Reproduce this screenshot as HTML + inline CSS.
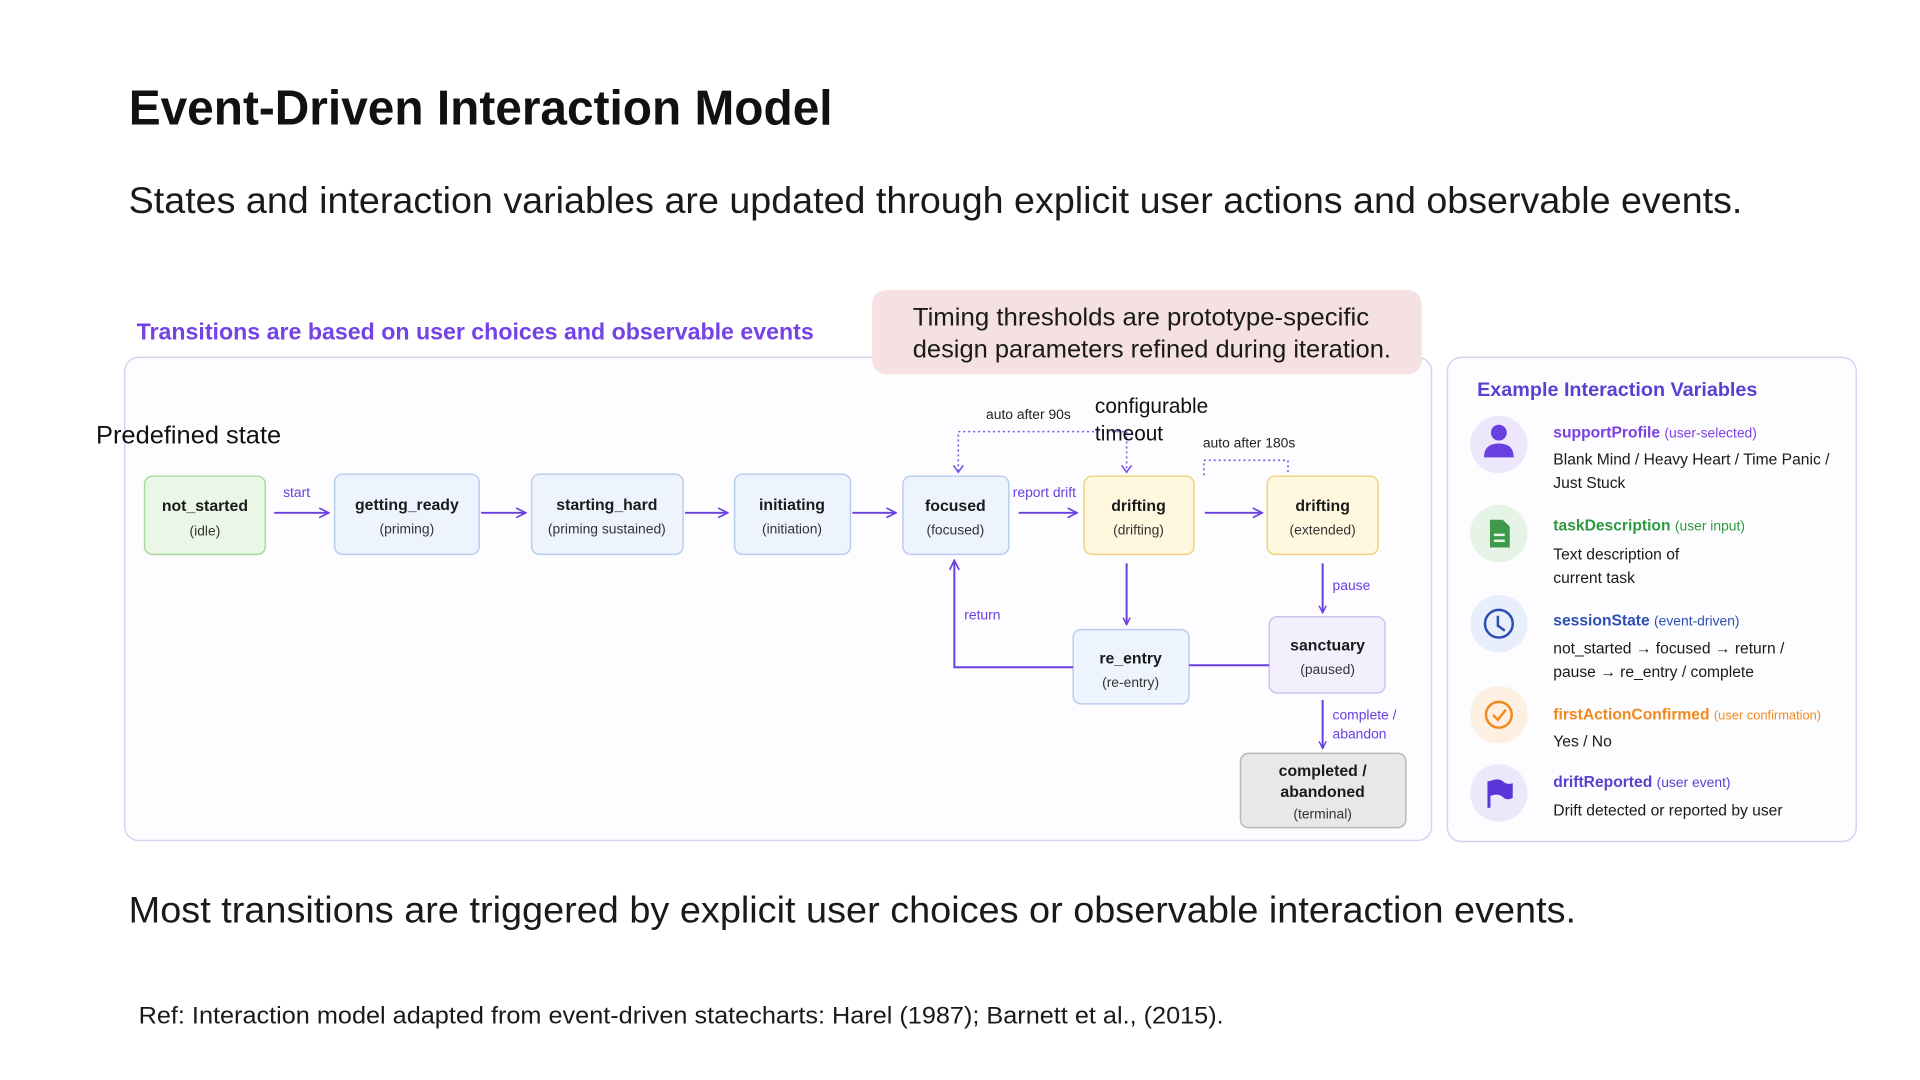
<!DOCTYPE html>
<html><head><meta charset="utf-8"><style>
html,body{margin:0;padding:0;background:#fff;}
svg{display:block;font-family:"Liberation Sans",sans-serif;}
</style></head><body>
<svg width="1920" height="1080" viewBox="0 0 1920 1080" xmlns="http://www.w3.org/2000/svg">
<defs>
<marker id="a" viewBox="0 0 10 10" refX="9" refY="5" markerWidth="9" markerHeight="9" orient="auto" markerUnits="userSpaceOnUse"><path d="M1,1 L9,5 L1,9" fill="none" stroke="#6a3fe0" stroke-width="1.6"/></marker>
<marker id="s" viewBox="0 0 10 10" refX="9" refY="5" markerWidth="12" markerHeight="12" orient="auto" markerUnits="userSpaceOnUse"><path d="M1,1 L9,5 L1,9" fill="none" stroke="#6a3fe0" stroke-width="1.4"/></marker>
</defs>
<rect width="1920" height="1080" fill="#fff"/>
<g transform="scale(0.99)">
<text x="130" y="126" font-size="50" font-weight="bold" fill="#111" textLength="711" lengthAdjust="spacingAndGlyphs">Event-Driven Interaction Model</text>
<text x="130" y="215" font-size="37" fill="#1a1a1a" textLength="1630" lengthAdjust="spacingAndGlyphs">States and interaction variables are updated through explicit user actions and observable events.</text>

<text x="138" y="343" font-size="23.5" font-weight="bold" fill="#7442e6" textLength="684" lengthAdjust="spacingAndGlyphs">Transitions are based on user choices and observable events</text>
<rect x="126" y="361" width="1320" height="488" rx="14" fill="#fdfcff" stroke="#d8d2f2" stroke-width="1.5"/>
<rect x="881" y="293" width="555" height="85" rx="14" fill="#f5e1e1"/>
<text x="922" y="329" font-size="25.5" fill="#1a1a1a" textLength="461" lengthAdjust="spacingAndGlyphs">Timing thresholds are prototype-specific</text>
<text x="922" y="361" font-size="25.5" fill="#1a1a1a" textLength="483" lengthAdjust="spacingAndGlyphs">design parameters refined during iteration.</text>

<text x="97" y="448" font-size="25" fill="#111" textLength="187" lengthAdjust="spacingAndGlyphs">Predefined state</text>

<g font-size="16" text-anchor="middle">
<rect x="146" y="481" width="122" height="79" rx="8" fill="#eaf7e6" stroke="#a9d8a1" stroke-width="1.5"/>
<text x="207" y="516" font-weight="bold" fill="#1a1a1a">not_started</text><text x="207" y="541" font-size="14" fill="#333">(idle)</text>
<rect x="338" y="479" width="146" height="81" rx="8" fill="#eef4fd" stroke="#b9cdee" stroke-width="1.5"/>
<text x="411" y="515" font-weight="bold" fill="#1a1a1a">getting_ready</text><text x="411" y="539" font-size="14" fill="#333">(priming)</text>
<rect x="537" y="479" width="153" height="81" rx="8" fill="#eef4fd" stroke="#b9cdee" stroke-width="1.5"/>
<text x="613" y="515" font-weight="bold" fill="#1a1a1a">starting_hard</text><text x="613" y="539" font-size="14" fill="#333">(priming sustained)</text>
<rect x="742" y="479" width="117" height="81" rx="8" fill="#eef4fd" stroke="#b9cdee" stroke-width="1.5"/>
<text x="800" y="515" font-weight="bold" fill="#1a1a1a">initiating</text><text x="800" y="539" font-size="14" fill="#333">(initiation)</text>
<rect x="912" y="481" width="107" height="79" rx="8" fill="#eef4fd" stroke="#b9cdee" stroke-width="1.5"/>
<text x="965" y="516" font-weight="bold" fill="#1a1a1a">focused</text><text x="965" y="540" font-size="14" fill="#333">(focused)</text>
<rect x="1095" y="481" width="111" height="79" rx="8" fill="#fff8df" stroke="#f0d27c" stroke-width="1.5"/>
<text x="1150" y="516" font-weight="bold" fill="#1a1a1a">drifting</text><text x="1150" y="540" font-size="14" fill="#333">(drifting)</text>
<rect x="1280" y="481" width="112" height="79" rx="8" fill="#fff8df" stroke="#f0d27c" stroke-width="1.5"/>
<text x="1336" y="516" font-weight="bold" fill="#1a1a1a">drifting</text><text x="1336" y="540" font-size="14" fill="#333">(extended)</text>
<rect x="1084" y="636" width="117" height="75" rx="8" fill="#eef4fd" stroke="#b9cdee" stroke-width="1.5"/>
<text x="1142" y="670" font-weight="bold" fill="#1a1a1a">re_entry</text><text x="1142" y="694" font-size="14" fill="#333">(re-entry)</text>
<rect x="1282" y="623" width="117" height="77" rx="8" fill="#f3effd" stroke="#cfc3f2" stroke-width="1.5"/>
<text x="1341" y="657" font-weight="bold" fill="#1a1a1a">sanctuary</text><text x="1341" y="681" font-size="14" fill="#333">(paused)</text>
<rect x="1253" y="761" width="167" height="75" rx="8" fill="#e8e8e8" stroke="#b8b8b8" stroke-width="1.5"/>
<text x="1336" y="784" font-weight="bold" fill="#1a1a1a">completed /</text><text x="1336" y="805" font-weight="bold" fill="#1a1a1a">abandoned</text><text x="1336" y="827" font-size="14" fill="#333">(terminal)</text>
</g>

<g stroke="#6a3fe0" stroke-width="2" fill="none">
<line x1="277" y1="518" x2="332" y2="518" marker-end="url(#s)"/>
<line x1="486" y1="518" x2="531" y2="518" marker-end="url(#s)"/>
<line x1="692" y1="518" x2="735" y2="518" marker-end="url(#s)"/>
<line x1="861" y1="518" x2="905" y2="518" marker-end="url(#s)"/>
<line x1="1029" y1="518" x2="1088" y2="518" marker-end="url(#s)"/>
<line x1="1217" y1="518" x2="1275" y2="518" marker-end="url(#s)"/>
<line x1="1138" y1="569" x2="1138" y2="631" marker-end="url(#a)"/>
<line x1="1336" y1="569" x2="1336" y2="619" marker-end="url(#a)"/>
<line x1="1336" y1="707" x2="1336" y2="756" marker-end="url(#a)"/>
<polyline points="1084,674 964,674 964,566" marker-end="url(#s)"/>
<line x1="1201" y1="672" x2="1282" y2="672"/>
</g>
<g stroke="#7a55e6" stroke-width="1.6" fill="none" stroke-dasharray="2,3">
<polyline points="968,476 968,436 1138,436 1138,476"/>
<polyline points="1216,480 1216,465 1301,465 1301,480"/>
</g>
<g stroke="#7a55e6" stroke-width="1.6" fill="none">
<path d="M963,470 L968,477 L973,470"/><path d="M1133,470 L1138,477 L1143,470"/>
</g>
<g font-size="14" fill="#6a3fe0">
<text x="286" y="502">start</text>
<text x="1023" y="502">report drift</text>
<text x="974" y="626">return</text>
<text x="1346" y="596">pause</text>
<text x="1346" y="727">complete /</text>
<text x="1346" y="746">abandon</text>
</g>
<g font-size="14" fill="#222">
<text x="996" y="423">auto after 90s</text>
<text x="1215" y="452">auto after 180s</text>
</g>
<text x="1106" y="417" font-size="21" fill="#111">configurable</text>
<text x="1106" y="445" font-size="21" fill="#111">timeout</text>

<rect x="1462" y="361" width="413" height="489" rx="14" fill="#fdfcff" stroke="#d8d2f2" stroke-width="1.5"/>
<text x="1492" y="400" font-size="20" font-weight="bold" fill="#5a3fd0">Example Interaction Variables</text>

<circle cx="1514" cy="449" r="29" fill="#ede7fb"/>
<circle cx="1514" cy="437" r="8" fill="#6a3fe0"/><path d="M1499,462 Q1499,448 1514,448 Q1529,448 1529,462 Z" fill="#6a3fe0"/>
<circle cx="1514" cy="539" r="29" fill="#e5f4e6"/>
<path d="M1505,525 h13 l7,7 v21 h-20 z" fill="#3e9a4a"/><rect x="1509" y="539" width="11" height="2.5" fill="#e5f4e6"/><rect x="1509" y="545" width="11" height="2.5" fill="#e5f4e6"/>
<circle cx="1514" cy="630" r="29" fill="#e8eefb"/>
<circle cx="1514" cy="630" r="14" fill="none" stroke="#2a4fb0" stroke-width="2.5"/><path d="M1513,622 V632 L1520,637" fill="none" stroke="#2a4fb0" stroke-width="2.5"/>
<circle cx="1514" cy="722" r="29" fill="#fdf0e2"/>
<circle cx="1514" cy="722" r="13" fill="none" stroke="#f08a1c" stroke-width="2.5"/><path d="M1508,722 L1513,727 L1521,717" fill="none" stroke="#f08a1c" stroke-width="2.5"/>
<circle cx="1514" cy="801" r="29" fill="#ece8fb"/>
<path d="M1504,789 V816" stroke="#5a35d8" stroke-width="3"/><path d="M1505,789 Q1514,785 1519,790 Q1523,793 1528,791 V806 Q1522,809 1518,805 Q1513,801 1505,804 Z" fill="#5a35d8"/>

<g font-size="15.8" fill="#1a1a1a">
<text x="1569" y="442" font-weight="bold" fill="#7b3fe4">supportProfile <tspan font-size="14" font-weight="normal">(user-selected)</tspan></text>
<text x="1569" y="469">Blank Mind / Heavy Heart / Time Panic /</text>
<text x="1569" y="493">Just Stuck</text>
<text x="1569" y="536" font-weight="bold" fill="#2e9a3e">taskDescription <tspan font-size="14" font-weight="normal">(user input)</tspan></text>
<text x="1569" y="565">Text description of</text>
<text x="1569" y="589">current task</text>
<text x="1569" y="632" font-weight="bold" fill="#2a4fb0">sessionState <tspan font-size="14" font-weight="normal">(event-driven)</tspan></text>
<text x="1569" y="660">not_started → focused → return /</text>
<text x="1569" y="684">pause → re_entry / complete</text>
<text x="1569" y="727" font-weight="bold" fill="#f08a1c">firstActionConfirmed <tspan font-size="13" font-weight="normal">(user confirmation)</tspan></text>
<text x="1569" y="754">Yes / No</text>
<text x="1569" y="795" font-weight="bold" fill="#5a3fd0">driftReported <tspan font-size="14" font-weight="normal">(user event)</tspan></text>
<text x="1569" y="824">Drift detected or reported by user</text>
</g>

<text x="130" y="932" font-size="37" fill="#1a1a1a" textLength="1462" lengthAdjust="spacingAndGlyphs">Most transitions are triggered by explicit user choices or observable interaction events.</text>
<text x="140" y="1034" font-size="24" fill="#1a1a1a" textLength="1096" lengthAdjust="spacingAndGlyphs">Ref: Interaction model adapted from event-driven statecharts: Harel (1987); Barnett et al., (2015).</text>
</g>
</svg>
</body></html>
